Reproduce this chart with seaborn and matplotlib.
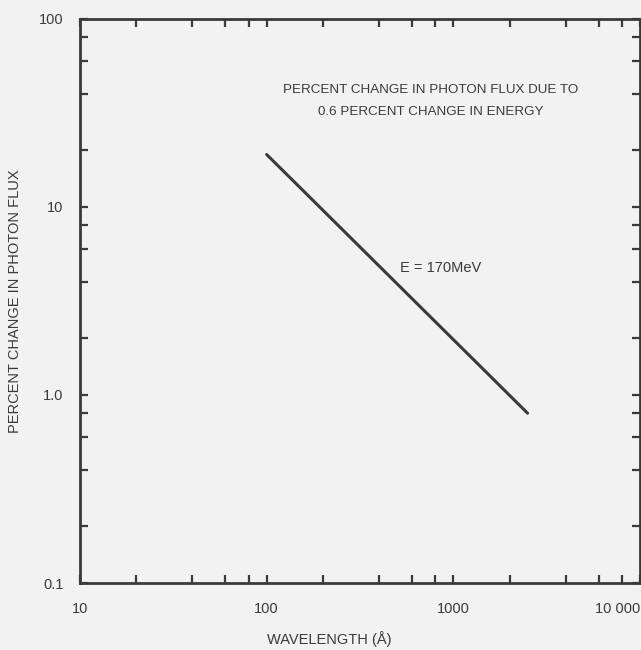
import matplotlib
matplotlib.use("Agg")
import matplotlib.pyplot as plt
import matplotlib.ticker as mticker
import numpy as np
import pandas as pd
import seaborn as sns

# Curve end points: wavelength (Angstrom) vs percent change in photon flux
wavelength = [100, 2500]
flux_change = [19.0, 0.8]

x_ticks = [10, 100, 1000, 10000]
x_tick_labels = ["10", "100", "1000", "10 000"]
y_ticks = [0.1, 1.0, 10, 100]
y_tick_labels = ["0.1", "1.0", "10", "100"]

sns.set_theme(style="white")
plt.rcParams["font.family"] = ["Liberation Sans", "DejaVu Sans"]

ink = "#3a3a3a"
bg = "#f2f2f2"

fig = plt.figure(figsize=(6.41, 6.5), dpi=100, facecolor=bg)
ax = fig.add_axes([0.1248, 0.103, 0.8736, 0.868])
ax.set_facecolor(bg)

df = pd.DataFrame({"wavelength": wavelength, "flux": flux_change})
sns.lineplot(data=df, x="wavelength", y="flux", ax=ax, color=ink, linewidth=2.2)

ax.set_xscale("log")
ax.set_yscale("log")
ax.set_xlim(10, 10000)
ax.set_ylim(0.1, 100)

ax.xaxis.set_major_locator(mticker.FixedLocator(x_ticks))
ax.xaxis.set_major_formatter(mticker.FixedFormatter(x_tick_labels))
ax.yaxis.set_major_locator(mticker.FixedLocator(y_ticks))
ax.yaxis.set_major_formatter(mticker.FixedFormatter(y_tick_labels))
ax.xaxis.set_minor_locator(mticker.LogLocator(base=10, subs=[2, 4, 6, 8]))
ax.yaxis.set_minor_locator(mticker.LogLocator(base=10, subs=[2, 4, 6, 8]))
ax.xaxis.set_minor_formatter(mticker.NullFormatter())
ax.yaxis.set_minor_formatter(mticker.NullFormatter())

ax.tick_params(which="both", direction="in", top=True, right=True,
               bottom=True, left=True,
               length=6, width=1.6, color=ink, labelcolor=ink, labelsize=10.5)
ax.tick_params(axis="x", which="major", pad=14)
ax.tick_params(axis="y", which="major", pad=12)

# keep the last wavelength label inside the figure
last = ax.get_xticklabels()[-1]
last.set_horizontalalignment("right")

for s in ax.spines.values():
    s.set_color(ink)
    s.set_linewidth(2)

ax.set_xlabel("WAVELENGTH (Å)", color=ink, fontsize=10.5)
ax.set_ylabel("PERCENT CHANGE IN PHOTON FLUX", color=ink, fontsize=10.5)
ax.xaxis.set_label_coords(0.445, -0.085)
ax.yaxis.set_label_coords(-0.104, 0.5)

ax.text(0.626, 0.855, "PERCENT CHANGE IN PHOTON FLUX DUE TO\n0.6 PERCENT CHANGE IN ENERGY",
        transform=ax.transAxes, ha="center", va="center", fontsize=9.6,
        color=ink, linespacing=2.1)
ax.text(850, 4.74, "E = 170MeV", ha="center", va="center", fontsize=10.5, color=ink)

fig.savefig("out.png", dpi=100, facecolor=bg)
